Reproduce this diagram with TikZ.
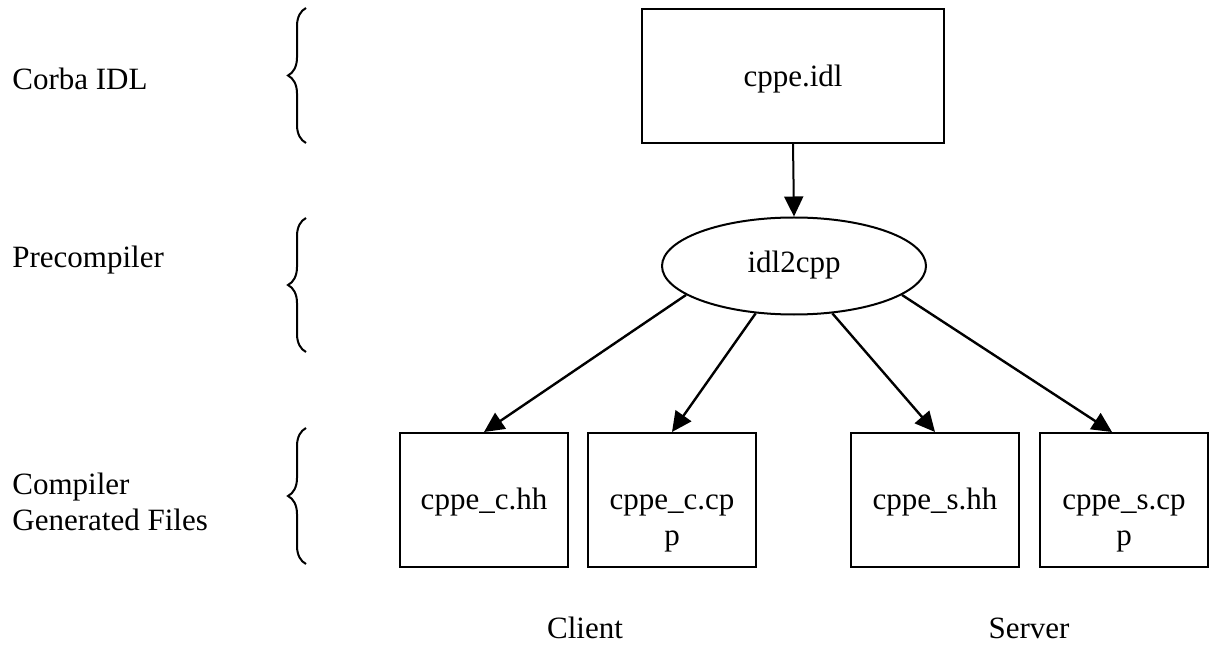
\documentclass[tikz,border=0pt]{standalone}
\usepackage{fontspec}
\setmainfont{Liberation Serif}
\usetikzlibrary{arrows.meta,shapes.geometric,decorations.pathreplacing}

\newcommand{\splitname}[2]{\begin{tabular}[t]{@{}c@{}}#1\\#2\end{tabular}}

\tikzset{
  filebox/.style={draw, line width=1pt, minimum width=84pt, minimum height=67pt,
    inner sep=0pt, text height=9pt, text depth=0pt},
  flow/.style={-{Triangle[length=10pt,width=9.5pt]}, line width=1.2pt},
  layer/.style={decorate, decoration={brace, amplitude=9pt}, line width=1pt},
}

\begin{document}
\begin{tikzpicture}[x=0.5pt, y=-0.5pt, every node/.style={font=\fontsize{15.5}{18}\selectfont}]
\useasboundingbox (0,0) rectangle (1213,646);

% layer names and braces
\node [anchor=base west, inner sep=0pt] (corba) at (12,90) {Corba IDL};
\node [anchor=base west, inner sep=0pt] (precomp) at (12,268) {Precompiler};
\node [anchor=base west, inner sep=0pt] (generated) at (12,494)
  {\begin{tabular}[t]{@{}l@{}}Compiler\\Generated Files\end{tabular}};
\draw [layer] (306,143) -- (306,8);
\draw [layer] (306,352) -- (306,218);
\draw [layer] (306,564) -- (306,428);

% source and precompiler
\node [draw, line width=1pt, minimum width=151pt, minimum height=67pt, inner sep=0pt,
  text height=11pt, text depth=0pt] (idl) at (793,76) {cppe.idl};
\node [draw, ellipse, line width=1pt, minimum width=132pt, minimum height=48.5pt,
  inner sep=0pt, text height=6pt, text depth=0pt] (idl2cpp) at (794,266) {idl2cpp};
\draw [flow, line width=1pt] (idl.south) -- (idl2cpp.north);

% generated files
\node [filebox] (chh) at (484,500) {cppe\_c.hh};
\node [filebox] (ccpp) at (672,500) {\splitname{cppe\_c.cp}{p}};
\node [filebox] (shh) at (935,500) {cppe\_s.hh};
\node [filebox] (scpp) at (1124,500) {\splitname{cppe\_s.cp}{p}};

\draw [flow] (idl2cpp.195) -- (chh.north);
\draw [flow] (idl2cpp.231) -- (ccpp.north);
\draw [flow] (idl2cpp.309) -- (shh.north);
\draw [flow] (idl2cpp.345) -- (scpp.100);

\node [anchor=base] (client) at (585,638) {Client};
\node [anchor=base] (server) at (1029,638) {Server};

\end{tikzpicture}
\end{document}
